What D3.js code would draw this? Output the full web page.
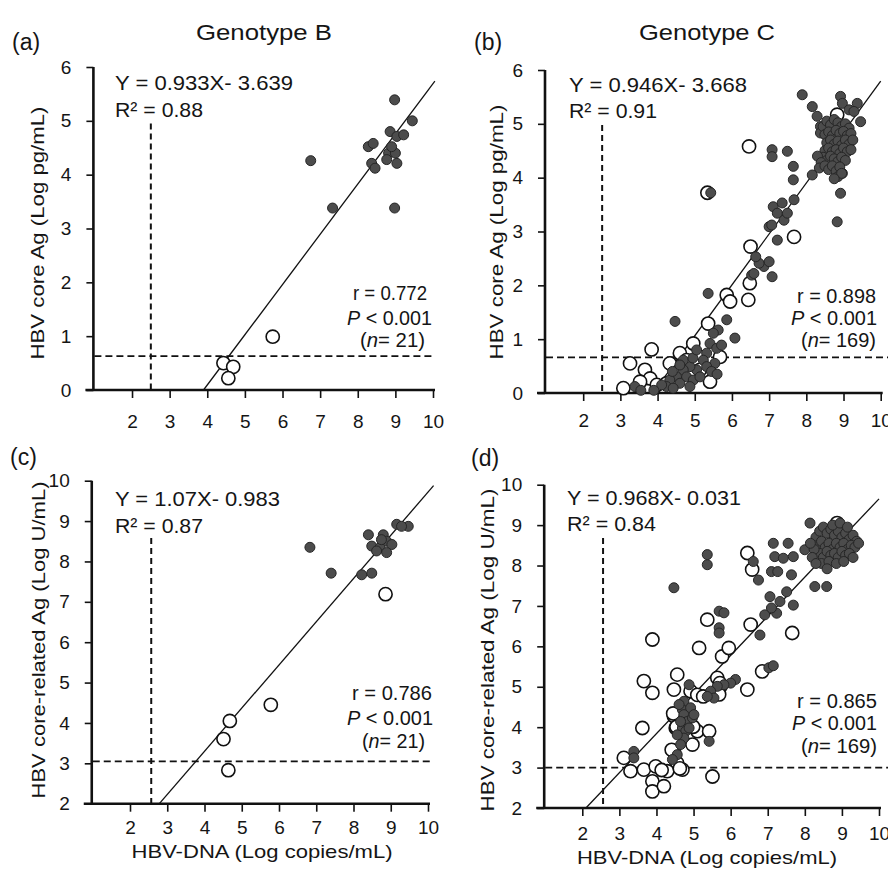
<!DOCTYPE html>
<html>
<head>
<meta charset="utf-8">
<script src="https://cdn.jsdelivr.net/npm/d3@7"></script>
<style>
  body { margin: 0; background: #fff; }
  svg text { font-family: "Liberation Sans", Arial, sans-serif; fill: #151515; }
</style>
</head>
<body>
<svg id="chart" width="888" height="876"></svg>
<script>
// Texts
var panelLetters = ['(a)', '(b)', '(c)', '(d)'];
var genotypeTitles = ['Genotype B', 'Genotype C'];
var yTitles = ['HBV core Ag (Log pg/mL)', 'HBV core-related Ag (Log U/mL)'];
var xTitle = 'HBV-DNA (Log copies/mL)';
var equations = ['Y = 0.933X- 3.639', 'Y = 0.946X- 3.668', 'Y = 1.07X- 0.983', 'Y = 0.968X- 0.031'];
var r2Values = ['0.88', '0.91', '0.87', '0.84'];
var rValues = ['0.772', '0.898', '0.786', '0.865'];
var nValues = ['21', '169', '21', '169'];

// Regression lines (slope, intercept) and their x extent
var slopes = [0.933, 0.946, 1.07, 0.968];
var intercepts = [-3.639, -3.668, -0.983, -0.031];
var lineEndX = [10.05, 10.0, 10.15, 10.0];

// Cut-off lines
var cutX = [2.5, 2.51, 2.57, 2.56];
var cutXTop = [4.95, 4.98, 8.58, 8.68];
var cutY = [0.63, 0.66, 3.05, 3.0];
var cutYEnd = [10.0, 10.25, 10.1, 10.25];

// Axis ticks
var xTicks = [2, 3, 4, 5, 6, 7, 8, 9, 10];
var agTicks = [0, 1, 2, 3, 4, 5, 6];
var crAgTicks = [2, 3, 4, 5, 6, 7, 8, 9, 10];

// (a) Genotype B, HBcAg
var aFilled = [[8.98,5.39],[9.45,5.00],[8.98,3.38],[6.75,4.26],[7.33,3.38],[8.28,4.52],[8.41,4.58],[8.37,4.21],
  [8.46,4.12],[8.86,4.80],[9.04,4.71],[9.22,4.74],[8.82,4.40],[9.00,4.40],[8.77,4.28],[9.04,4.21],[8.90,4.52]];
var aOpen = [[5.74,0.99],[4.43,0.50],[4.69,0.43],[4.56,0.22]];

// (b) Genotype C, HBcAg
var bOpen = [[6.46,4.58],[5.34,3.72],[7.67,2.90],[6.50,2.72],[8.83,5.17],
  [3.84,0.81],[3.26,0.55],[3.66,0.43],[3.08,0.09],[3.80,0.27],[3.98,0.15],[3.53,0.21],
  [5.86,1.82],[5.95,1.70],[6.48,2.04],[6.44,1.73],[5.36,1.29],[4.96,0.92],[4.60,0.74],[4.78,0.61],
  [4.33,0.55],[5.41,0.21],[5.68,0.67],[4.24,0.18],[4.56,0.40],[5.14,0.43]];
var bFilled = [[5.36,1.85],[4.47,1.33],[5.86,1.36],[5.63,1.17],[5.50,1.11],[6.08,1.02],[5.41,0.92],[5.59,0.83],
  [5.32,0.74],[5.54,0.55],[5.23,0.61],[5.05,0.43],[4.87,0.49],[4.69,0.43],[4.51,0.30],[4.33,0.24],
  [4.78,0.30],[4.96,0.24],[4.60,0.18],[4.24,0.12],[4.11,0.15],[3.39,0.12],[4.42,0.09],[5.14,0.30],
  [4.87,0.12],[5.32,0.49],[5.72,0.89],[4.69,0.61],[6.53,2.19],[4.60,0.52],[4.95,0.65],[5.05,0.80],
  [5.45,0.40],[4.40,0.40],[3.55,0.05],[3.90,0.05],[5.60,0.35],
  [6.59,2.22],[6.86,2.35],[6.73,2.41],[7.00,2.44],[6.64,2.53],[7.08,2.16],[7.22,2.84],[7.00,3.09],
  [7.11,3.46],[7.22,3.34],[7.35,3.53],[7.40,3.21],[7.49,3.34],[7.67,3.59],[7.65,3.96],[7.65,4.21],
  [7.49,4.49],[7.08,4.52],[7.08,4.39],[8.16,4.05],[7.89,5.54],[8.16,5.32],[8.29,5.14],[8.38,4.95],
  [8.38,4.83],[8.92,3.71],[8.83,3.18],[8.97,4.08],[8.92,5.51],[8.97,5.38],[9.15,5.26],[9.37,5.38],
  [9.46,5.04],[9.28,5.23],[5.43,3.72],[7.07,3.12],
  [8.45,4.95],[8.55,5.05],[8.65,4.98],[8.75,5.08],[8.85,5.02],[8.95,4.95],[9.05,5.00],[9.15,4.92],
  [8.50,4.80],[8.60,4.85],[8.70,4.78],[8.80,4.88],[8.90,4.82],[9.00,4.86],[9.10,4.78],[9.20,4.82],
  [8.55,4.65],[8.65,4.70],[8.75,4.62],[8.85,4.68],[8.95,4.60],[9.05,4.70],[9.15,4.62],[9.25,4.70],
  [8.50,4.50],[8.60,4.55],[8.70,4.48],[8.80,4.52],[8.90,4.45],[9.00,4.55],[9.10,4.48],[9.20,4.52],
  [8.45,4.38],[8.55,4.32],[8.65,4.40],[8.75,4.35],[8.85,4.30],[8.95,4.38],[9.05,4.32],
  [8.30,4.40],[8.40,4.28],[8.35,4.18],[8.50,4.22],[8.60,4.15],[8.70,4.22],[8.80,4.12],[8.90,4.20],
  [8.85,4.02],[8.95,4.08],[8.75,3.98]];

// (c) Genotype B, HBcrAg
var cOpen = [[8.86,7.19],[5.78,4.45],[4.68,4.05],[4.51,3.60],[4.64,2.83]];
var cFilled = [[6.83,8.35],[7.40,7.71],[8.22,7.67],[8.49,7.71],[8.40,8.66],[8.49,8.38],[8.80,8.66],[8.89,8.50],
  [9.03,8.42],[8.71,8.34],[8.89,8.22],[9.16,8.92],[9.47,8.87],[9.29,8.87],[8.75,8.54],[8.62,8.26]];

// (d) Genotype C, HBcrAg
var dOpen = [[3.89,6.17],[5.15,5.96],[5.37,6.66],[6.45,8.31],[6.58,7.90],[6.54,6.54],[7.66,6.33],[5.77,5.75],
  [5.95,5.96],[6.85,5.38],[6.45,4.93],[3.66,5.14],[3.89,4.85],[4.56,5.30],[4.47,4.93],[4.92,4.89],
  [3.62,3.98],[5.64,5.22],[5.73,5.01],[5.69,4.81],[4.47,4.27],[4.52,3.98],[5.10,3.90],[4.97,3.57],
  [5.42,3.90],[4.47,3.40],[4.56,3.11],[3.12,3.24],[3.30,2.91],[3.66,2.95],[3.98,3.03],[3.89,2.66],
  [3.89,2.41],[4.20,2.54],[4.29,2.91],[4.70,2.95],[5.51,2.78],[5.10,4.80],[8.87,9.05],[4.99,4.01],
  [4.54,4.01],[4.45,4.34],[4.14,2.94],[4.63,2.98],[5.26,4.76],[5.71,5.09],[4.41,3.44]];
var dFilled = [[4.47,7.45],[5.37,8.27],[5.37,8.02],[8.14,9.05],[5.69,6.87],[5.82,6.83],[5.69,6.46],[5.69,6.33],
  [6.61,8.10],[6.75,7.64],[7.15,8.55],[7.55,8.55],[7.19,8.22],[7.42,8.18],[7.69,8.22],[7.10,7.85],
  [7.27,7.85],[7.64,7.77],[8.00,8.39],[8.27,7.48],[8.59,7.48],[7.51,7.35],[7.06,7.23],[7.33,7.11],
  [7.69,7.02],[6.92,6.78],[7.24,6.82],[7.10,6.95],[6.79,6.28],[7.03,5.47],[7.15,5.52],
  [6.13,5.18],[6.00,5.09],[5.82,5.05],[5.64,5.01],[5.46,4.89],[5.55,4.72],[5.37,4.76],[4.88,5.05],
  [4.74,4.64],[4.70,4.43],[4.74,4.31],[4.83,4.14],[4.70,3.98],[4.79,3.90],[4.74,3.73],[4.65,3.57],
  [4.56,3.32],[4.43,3.20],[4.92,4.48],[4.97,4.23],[5.01,4.31],[4.61,4.56],[4.65,4.14],[4.88,3.98],
  [4.56,3.81],[5.42,3.65],[3.39,3.40],[3.39,3.24],
  [8.30,8.70],[8.40,8.85],[8.50,8.95],[8.60,8.80],[8.70,8.90],[8.80,8.75],[8.90,8.85],[9.00,8.70],
  [9.10,8.80],[9.20,8.65],[9.30,8.75],[9.40,8.60],[8.35,8.50],[8.45,8.60],[8.55,8.45],[8.65,8.55],
  [8.75,8.40],[8.85,8.55],[8.95,8.45],[9.05,8.55],[9.15,8.40],[9.25,8.50],[9.35,8.45],[9.45,8.55],
  [8.40,8.30],[8.50,8.20],[8.60,8.35],[8.70,8.25],[8.80,8.30],[8.90,8.20],[9.00,8.35],[9.10,8.25],
  [9.20,8.30],[9.30,8.20],[8.25,8.40],[8.20,8.20],[8.45,8.05],[8.65,8.10],[8.85,8.05],[9.05,8.10],
  [8.75,9.00],[8.95,9.05],[9.15,8.95],[8.15,8.55],[8.30,8.05],[8.60,7.92]];

// Panel layouts (pixel geometry only)
var panels = [
  { xRange: [94.4, 433], yRange: [390, 67], yDomain: [0, 6], yTicks: agTicks, xPad: 17,
    filled: aFilled, open: aOpen, letter: [12, 50], title: [264, 40], yTitle: [44, 233, 253],
    eq: [115, 90, 178], r2: [115, 117, 88], r: [427, 300, 74], p: [432, 325, 85], n: [425, 347, 65] },
  { xRange: [546, 880.7], yRange: [393, 70], yDomain: [0, 6], yTicks: agTicks, xPad: 13,
    filled: bFilled, open: bOpen, letter: [474, 50], title: [707, 40], yTitle: [503, 232, 255],
    eq: [569, 92, 178], r2: [569, 118, 88], r: [876, 303, 79], p: [877, 325, 86], n: [876, 347, 75] },
  { xRange: [92.75, 428], yRange: [803.7, 480.7], yDomain: [2, 10], yTicks: crAgTicks, xPad: 9,
    filled: cFilled, open: cOpen, letter: [10, 465], yTitle: [45, 640, 317], xTitle: [262, 858, 261],
    eq: [115, 506, 165], r2: [115, 533, 88], r: [432, 700, 80], p: [433, 725, 86], n: [425, 748, 63] },
  { xRange: [545.2, 879], yRange: [808, 484.7], yDomain: [2, 10], yTicks: crAgTicks, xPad: 11,
    filled: dFilled, open: dOpen, letter: [471, 466], yTitle: [494, 650, 323], xTitle: [707, 864, 260],
    eq: [567, 505, 174], r2: [567, 531, 89], r: [877, 708, 80], p: [877, 730, 85], n: [877, 753, 76] }
];

var svg = d3.select('#chart');

function addText(g, x, y, parts, size, anchor, len) {
  var t = g.append('text')
    .attr('x', x)
    .attr('y', y)
    .attr('font-size', size)
    .attr('text-anchor', anchor || 'start');
  parts.forEach(function(p) {
    var s = t.append('tspan').text(p[0]);
    if (p[1]) s.attr('font-style', 'italic');
  });
  if (len) t.attr('textLength', len).attr('lengthAdjust', 'spacingAndGlyphs');
  return t;
}

panels.forEach(function(cfg, i) {
  var g = svg.append('g');
  var x = d3.scaleLinear().domain([1, 10]).range(cfg.xRange);
  var y = d3.scaleLinear().domain(cfg.yDomain).range(cfg.yRange);
  var yMin = cfg.yDomain[0];
  var yMax = cfg.yDomain[1];

  // Cut-off lines
  g.append('line')
    .attr('x1', x(cutX[i])).attr('x2', x(cutX[i]))
    .attr('y1', y(cutXTop[i])).attr('y2', y(yMin))
    .attr('stroke', '#111').attr('stroke-width', 2)
    .attr('stroke-dasharray', '6,4');
  g.append('line')
    .attr('x1', x(1)).attr('x2', x(cutYEnd[i]))
    .attr('y1', y(cutY[i])).attr('y2', y(cutY[i]))
    .attr('stroke', '#111').attr('stroke-width', 1.8)
    .attr('stroke-dasharray', '7,4');

  // Regression line
  var x0 = (yMin - intercepts[i]) / slopes[i];
  var regLine = d3.line()
    .x(function(d) { return x(d); })
    .y(function(d) { return y(slopes[i] * d + intercepts[i]); });
  g.append('path')
    .datum([x0, lineEndX[i]])
    .attr('d', regLine)
    .attr('fill', 'none')
    .attr('stroke', '#111')
    .attr('stroke-width', 1.3);

  // Axes
  var xAxis = d3.axisBottom(x).tickValues(xTicks).tickSize(8).tickSizeOuter(0)
    .tickPadding(cfg.xPad).tickFormat(d3.format('d'));
  var yAxis = d3.axisLeft(y).tickValues(cfg.yTicks).tickSize(7).tickSizeOuter(0)
    .tickPadding(15).tickFormat(d3.format('d'));

  var gx = g.append('g')
    .attr('transform', 'translate(0,' + y(yMin) + ')')
    .call(xAxis);
  var gy = g.append('g')
    .attr('transform', 'translate(' + (x(1) - 1) + ',0)')
    .call(yAxis);
  [gx, gy].forEach(function(ax) {
    ax.select('.domain').remove();
    ax.selectAll('.tick line').attr('stroke', '#111').attr('stroke-width', 1.6);
    ax.selectAll('.tick text')
      .attr('font-size', 19)
      .attr('font-family', '"Liberation Sans", Arial, sans-serif')
      .attr('fill', '#151515');
  });
  g.append('line')
    .attr('x1', x(1) - 9).attr('x2', x(10) + 2)
    .attr('y1', y(yMin)).attr('y2', y(yMin))
    .attr('stroke', '#111').attr('stroke-width', 2.6);
  g.append('line')
    .attr('x1', x(1) - 1).attr('x2', x(1) - 1)
    .attr('y1', y(yMax)).attr('y2', y(yMin))
    .attr('stroke', '#111').attr('stroke-width', 2.6);

  // Points: open first, filled on top
  g.append('g').selectAll('circle')
    .data(cfg.open)
    .enter()
    .append('circle')
    .attr('cx', function(d) { return x(d[0]); })
    .attr('cy', function(d) { return y(d[1]); })
    .attr('r', 6.6)
    .attr('fill', '#fff')
    .attr('stroke', '#111')
    .attr('stroke-width', 1.6);
  g.append('g').selectAll('circle')
    .data(cfg.filled)
    .enter()
    .append('circle')
    .attr('cx', function(d) { return x(d[0]); })
    .attr('cy', function(d) { return y(d[1]); })
    .attr('r', 5)
    .attr('fill', '#4c4c4c')
    .attr('stroke', '#262626')
    .attr('stroke-width', 1);

  // Labels
  addText(g, cfg.letter[0], cfg.letter[1], [[panelLetters[i]]], 23);
  if (cfg.title) {
    addText(g, cfg.title[0], cfg.title[1], [[genotypeTitles[i]]], 22, 'middle', 136);
  }
  g.append('text')
    .attr('transform', 'translate(' + cfg.yTitle[0] + ',' + cfg.yTitle[1] + ') rotate(-90)')
    .attr('text-anchor', 'middle')
    .attr('font-size', 19)
    .attr('textLength', cfg.yTitle[2])
    .attr('lengthAdjust', 'spacingAndGlyphs')
    .text(yTitles[i < 2 ? 0 : 1]);
  if (cfg.xTitle) {
    addText(g, cfg.xTitle[0], cfg.xTitle[1], [[xTitle]], 19, 'middle', cfg.xTitle[2]);
  }
  addText(g, cfg.eq[0], cfg.eq[1], [[equations[i]]], 20, 'start', cfg.eq[2]);
  addText(g, cfg.r2[0], cfg.r2[1], [['R\u00b2 = ' + r2Values[i]]], 20, 'start', cfg.r2[2]);
  addText(g, cfg.r[0], cfg.r[1], [['r = ' + rValues[i]]], 20, 'end', cfg.r[2]);
  addText(g, cfg.p[0], cfg.p[1], [['P', true], [' < 0.001']], 20, 'end', cfg.p[2]);
  addText(g, cfg.n[0], cfg.n[1], [['('], ['n', true], ['= ' + nValues[i] + ')']], 20, 'end', cfg.n[2]);
});
</script>
</body>
</html>
